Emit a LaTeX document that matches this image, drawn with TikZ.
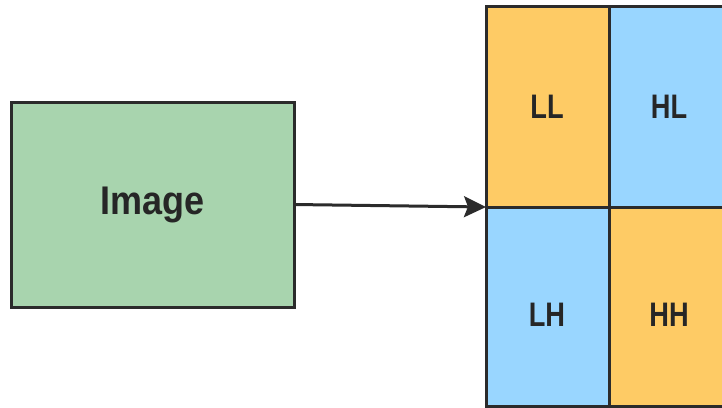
\documentclass[tikz,border=0pt]{standalone}
\usepackage{fontspec}
\newfontfamily\imgfont[FakeStretch=0.9]{Liberation Sans}
\newfontfamily\cellfont[FakeStretch=0.8]{Liberation Sans}
\usetikzlibrary{arrows.meta}
\definecolor{bord}{HTML}{2B2B2B}
\definecolor{imggreen}{HTML}{A8D4AE}
\definecolor{cellorange}{HTML}{FECB65}
\definecolor{cellblue}{HTML}{99D6FF}
\definecolor{txt}{HTML}{262626}
\tikzset{
  box/.style={draw=bord, line width=3pt, inner sep=0pt, outer sep=0pt},
  cellbox/.style={box, minimum width=123pt, minimum height=#1},
  lbl/.style={text=txt, inner sep=0pt, font=\cellfont\bfseries\fontsize{34}{40}\selectfont},
  link/.style={draw=bord, line width=3pt, -{Stealth[length=22pt, width=21pt, inset=4pt]}}
}
\begin{document}
\begin{tikzpicture}[x=1pt, y=-1pt]
\clip (0,0) rectangle (722,407);
\fill[white] (0,0) rectangle (722,407);
% image box
\node[box, fill=imggreen, minimum width=283pt, minimum height=205pt, text=txt,
      font=\imgfont\bfseries\fontsize{40}{48}\selectfont] (img) at (152.5,204.5) {Image};
% grid cells
\node[cellbox=201pt, fill=cellorange] (LL) at (547.5,106.5) {};
\node[cellbox=201pt, fill=cellblue] (HL) at (670.5,106.5) {};
\node[cellbox=199pt, fill=cellblue] (LH) at (547.5,306.5) {};
\node[cellbox=199pt, fill=cellorange] (HH) at (670.5,306.5) {};
% labels
\node[lbl] (tLL) at (547,107) {LL};
\node[lbl] (tHL) at (669,107) {HL};
\node[lbl] (tLH) at (547,315) {LH};
\node[lbl] (tHH) at (669,315) {HH};
% arrow
\draw[link] (img.east) -- (LL.south west);
\end{tikzpicture}
\end{document}
